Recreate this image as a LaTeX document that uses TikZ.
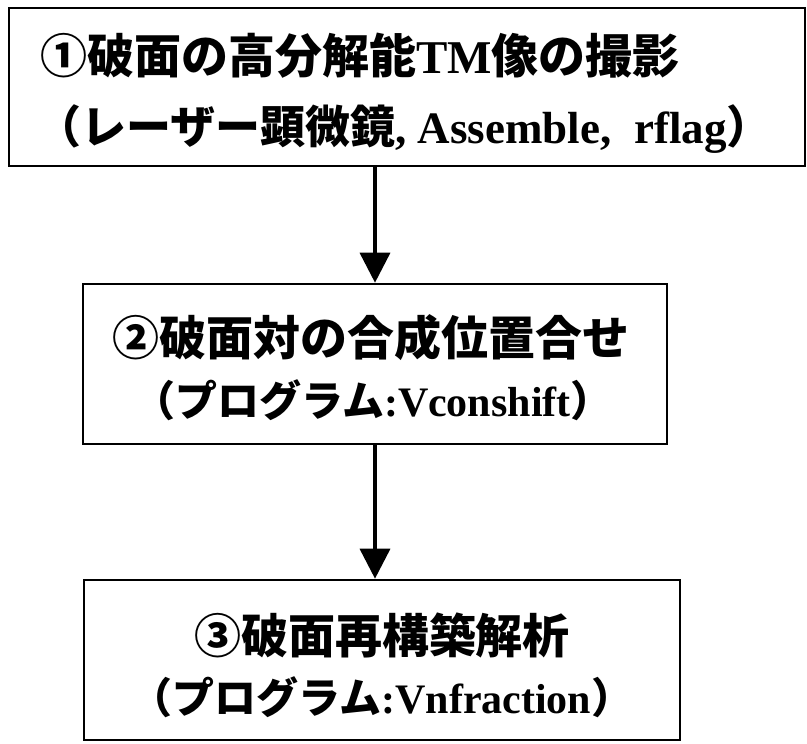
\documentclass[tikz,border=0pt]{standalone}
\usepackage{fontspec}
\setmainfont{Liberation Serif}
\newfontfamily\jpfont{Noto Sans CJK JP}
\usetikzlibrary{arrows.meta}
\newcommand{\Jt}[1]{{\jpfont\bfseries #1}}
\newcommand{\Lt}[1]{{\rmfamily\bfseries #1}}
\tikzset{
  stepbox/.style={draw=black, line width=2.6pt, rectangle, inner sep=0pt, fill=white},
  txt/.style={anchor=base, inner sep=0pt},
  big/.style={font=\fontsize{47}{47}\selectfont},
  mid/.style={font=\fontsize{45}{45}\selectfont},
  sml/.style={font=\fontsize{42}{42}\selectfont},
  flow/.style={line width=3.6pt, -{Triangle[width=30pt,length=30pt]}}
}
\begin{document}
\begin{tikzpicture}[x=1pt,y=-1pt]
\useasboundingbox (0,0) rectangle (807,744);
\fill[white] (0,0) rectangle (807,744);
\node[stepbox, minimum width=796pt, minimum height=158pt] (b1) at (407,87) {};
\node[stepbox, minimum width=584pt, minimum height=160pt] (b2) at (375,364) {};
\node[stepbox, minimum width=596pt, minimum height=160pt] (b3) at (382,660) {};
\node[txt, big] (t1a) at (360,73) {\Jt{①破面の高分解能}\Lt{TM}\Jt{像の撮影}};
\node[txt, mid] (t1b) at (404,143) {\Jt{（レーザー顕微鏡}\Lt{, Assemble,\ \ rflag}\Jt{）}};
\node[txt, big] (t2a) at (371,355) {\Jt{②破面対の合成位置合せ}};
\node[txt, sml] (t2b) at (373,416) {\Jt{（プログラム}\Lt{:Vconshift}\Jt{）}};
\node[txt, big] (t3a) at (382,653) {\Jt{③破面再構築解析}};
\node[txt, sml] (t3b) at (382,713) {\Jt{（プログラム}\Lt{:Vnfraction}\Jt{）}};
\draw[flow] (b1.south -| b2.north) -- (b2.north);
\draw[flow] (b2.south) -- (b3.north -| b2.south);
\end{tikzpicture}
\end{document}
